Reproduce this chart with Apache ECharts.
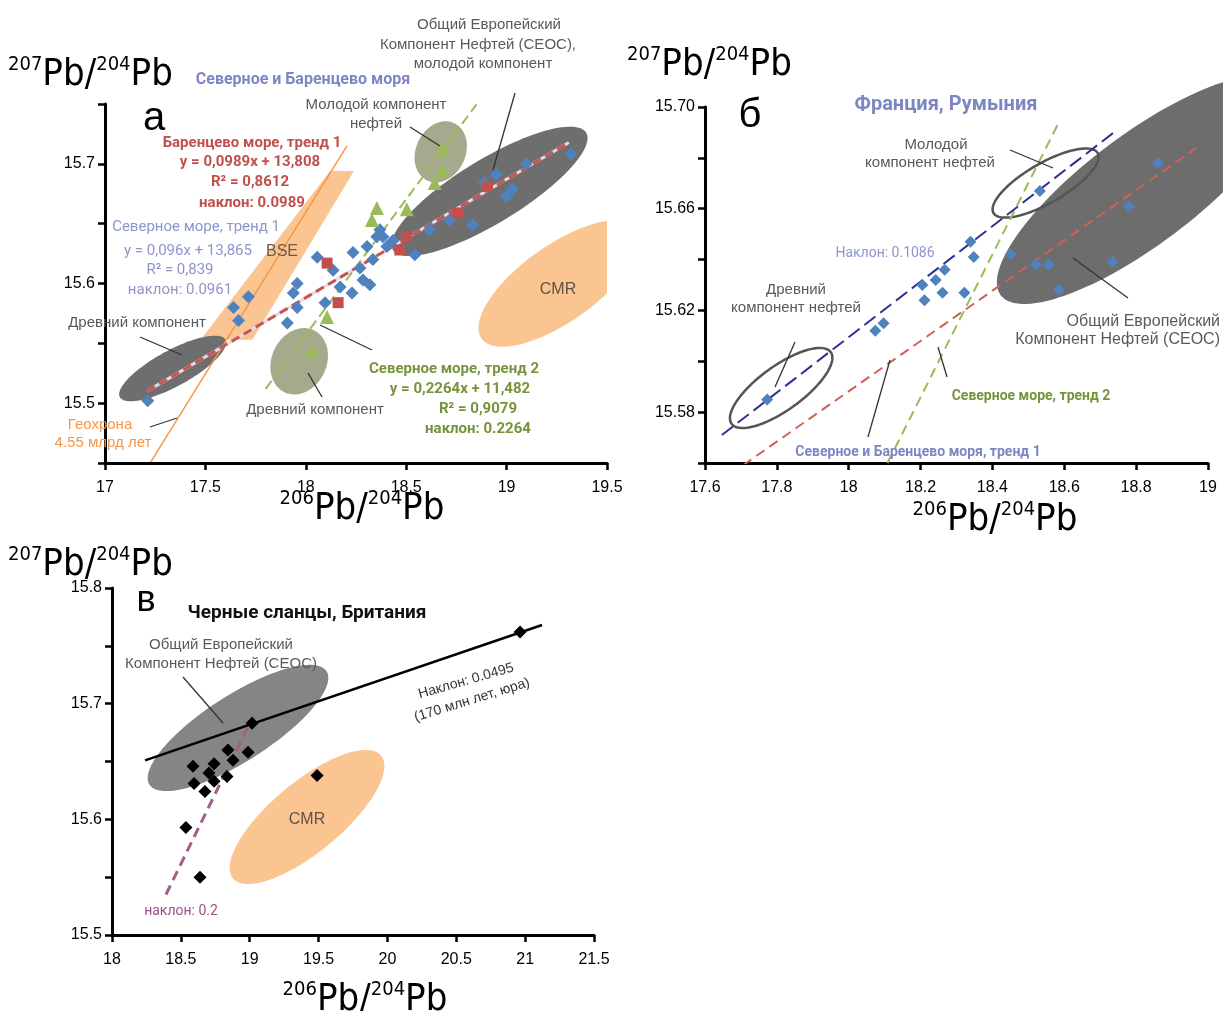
<!DOCTYPE html>
<html><head><meta charset="utf-8">
<script src="https://cdn.jsdelivr.net/npm/echarts@6/dist/echarts.min.js"></script>
<style>html,body{margin:0;padding:0;background:#fff}#c{width:1223px;height:1011px}</style>
</head><body><div id="c"></div>
<script>
// ===== Panel а: Северное и Баренцево моря =====
const aNorthSeaX = [17.213,17.640,17.714,17.665,17.908,17.938,17.957,17.957,18.096,18.171,18.230,18.285,18.319,18.057,18.136,18.235,18.305,18.334,18.354,18.384,18.404,18.434,18.369,18.270,18.543,18.617,18.716,18.830,18.890,18.949,19.029,18.999,19.098,19.321];
const aNorthSeaY = [15.502,15.580,15.589,15.569,15.567,15.592,15.600,15.580,15.584,15.597,15.592,15.603,15.599,15.622,15.611,15.626,15.631,15.620,15.639,15.639,15.631,15.636,15.645,15.613,15.624,15.645,15.653,15.649,15.684,15.691,15.679,15.673,15.700,15.708];
const aBarentsX = [18.905,18.756,18.503,18.468,18.106,18.161];
const aBarentsY = [15.681,15.659,15.639,15.628,15.617,15.584];
const aTrend2X = [18.354,18.329,18.503,18.642,18.682,18.677,18.106,18.032];
const aTrend2Y = [15.663,15.653,15.662,15.684,15.695,15.712,15.572,15.544];
const aBarentsCoef = [0.0989, 13.808];
const aBarentsRange = [17.21, 19.31];
const aNorthSea2Coef = [0.2264, 11.482];
const aNorthSea2Range = [17.80, 18.85];
const aGeochronX = [17.228, 18.205];
const aGeochronY = [15.451, 15.715];
const aBseX = [18.121, 18.240, 17.734, 17.476];
const aBseY = [15.694, 15.694, 15.553, 15.553];
// regions: centre x, centre y, major-axis tip x, tip y, minor/major ratio
const aRegions = [
  [18.672, 15.710, 18.739, 15.734, 0.78],
  [17.967, 15.535, 18.039, 15.561, 0.80],
  [19.262, 15.600, 19.649, 15.646, 0.40],
  [17.337, 15.529, 17.600, 15.553, 0.30],
  [18.915, 15.677, 19.396, 15.726, 0.283]
];
const aXTickLabels = ['17','17.5','18','18.5','19','19.5'];
const aYTickLabels = ['15.5','15.6','15.7'];

// ===== Panel б: Франция, Румыния =====
const bPointsX = [17.773,18.074,18.097,18.205,18.242,18.211,18.261,18.267,18.322,18.585,18.861,18.532,18.780,18.339,18.348,18.451,18.521,18.557,18.735];
const bPointsY = [15.585,15.612,15.615,15.630,15.632,15.624,15.627,15.636,15.627,15.628,15.678,15.667,15.661,15.647,15.641,15.642,15.638,15.638,15.639];
const bNavyX = [17.647, 18.738];
const bNavyY = [15.571, 15.690];
const bBarentsRange = [17.706, 18.967];
const bGreenX = [18.108, 18.585];
const bGreenY = [15.560, 15.694];
const bRegions = [
  [18.813, 15.6674, 19.203, 15.7088, 0.314],
  [18.548, 15.6701, 18.693, 15.6819, 0.33],
  [17.812, 15.5895, 17.950, 15.6036, 0.36]
];
const bXTickLabels = ['17.6','17.8','18','18.2','18.4','18.6','18.8','19'];
const bYTickLabels = ['15.58','15.62','15.66','15.70'];

// ===== Panel в: Черные сланцы, Британия =====
const cPointsX = [19.017,18.842,18.988,18.879,18.588,18.741,18.704,18.596,18.741,18.835,18.675,18.537,18.639,19.489,20.963];
const cPointsY = [15.683,15.660,15.658,15.651,15.646,15.648,15.640,15.631,15.633,15.637,15.624,15.593,15.550,15.638,15.762];
const cBlackX = [18.240, 21.123];
const cBlackY = [15.651, 15.768];
const cPinkX = [18.392, 19.024];
const cPinkY = [15.535, 15.689];
const cRegions = [
  [19.416, 15.602, 19.954, 15.655, 0.365],
  [18.915, 15.679, 19.558, 15.728, 0.314]
];
const cXTickLabels = ['18','18.5','19','19.5','20','20.5','21','21.5'];
const cYTickLabels = ['15.5','15.6','15.7','15.8'];

// ===== styling =====
const ARIAL = "'Liberation Sans', Arial, sans-serif";
const CAL = "Roboto, 'Open Sans', sans-serif";
const NARROW = "'Liberation Sans Narrow','Arial Narrow','DejaVu Sans Condensed',sans-serif";
const GRAY = '#595959', LAV = '#7d86c4', LAV2 = '#8e95cb', RED = '#c0504d', OLIVE = '#77933c', ORANGE = '#f79646';

function fmt(labels) {
  return v => { for (const l of labels) if (Math.abs(parseFloat(l) - v) < 1e-6) return l; return ''; };
}
function axis(gi, min, max, interval, labels, isY) {
  return {
    type: 'value', gridIndex: gi, min, max, interval, scale: true,
    axisLine: {show: true, onZero: false, lineStyle: {color: '#000', width: 3}},
    axisTick: {show: true, inside: false, length: 7, lineStyle: {color: '#000', width: 2.5}},
    splitLine: {show: false},
    axisLabel: {color: '#000', fontSize: 16, fontFamily: ARIAL, margin: isY ? 10 : 17,
      showMinLabel: true, showMaxLabel: true, formatter: fmt(labels)}
  };
}
function regionSeries(xi, regions, fills, strokes, widths, clip) {
  return {
    type: 'custom', xAxisIndex: xi, yAxisIndex: xi, clip, z: 1, silent: true,
    data: regions, encode: {x: 0, y: 1},
    renderItem: (params, api) => {
      const c = api.coord([api.value(0), api.value(1)]);
      const t = api.coord([api.value(2), api.value(3)]);
      const r = api.value(4);
      const dx = t[0] - c[0], dy = t[1] - c[1];
      const a = Math.hypot(dx, dy), ux = dx / a, uy = dy / a, b = a * r;
      const pts = [];
      for (let k = 0; k < 120; k++) {
        const th = 2 * Math.PI * k / 120;
        const ca = Math.cos(th) * a, sb = Math.sin(th) * b;
        pts.push([c[0] + ca * ux - sb * uy, c[1] + ca * uy + sb * ux]);
      }
      const i = params.dataIndex;
      return {type: 'polygon', shape: {points: pts},
        style: {fill: fills[i] || 'none', stroke: strokes[i] || null, lineWidth: widths[i] || 0}};
    }
  };
}
function polySeries(xi, xs, ys, fill) {
  return {
    type: 'custom', xAxisIndex: xi, yAxisIndex: xi, clip: true, z: 1, silent: true,
    data: xs.map((x, i) => [x, ys[i]]), encode: {x: 0, y: 1},
    renderItem: (params, api) => {
      if (params.dataIndex !== 0) return null;
      const pts = xs.map((x, i) => api.coord([x, ys[i]]));
      return {type: 'polygon', shape: {points: pts}, style: {fill}};
    }
  };
}
function seg(xi, xs, ys, color, width, dash, z) {
  return {type: 'line', xAxisIndex: xi, yAxisIndex: xi, data: xs.map((x, i) => [x, ys[i]]),
    symbol: 'none', silent: true, z: z || 3, lineStyle: {color, width, type: dash || 'solid'}};
}
function trend(xi, coef, range, color, width, dash, z) {
  return seg(xi, range, range.map(x => coef[0] * x + coef[1]), color, width, dash, z);
}
function pts(xi, xs, ys, symbol, size, color) {
  return {type: 'scatter', xAxisIndex: xi, yAxisIndex: xi, data: xs.map((x, i) => [x, ys[i]]),
    symbol, symbolSize: size, z: 4, silent: true, itemStyle: {color, opacity: 1}};
}
function T(x, y, text, o) {
  o = o || {};
  const align = o.align || 'center';
  return {type: 'text', x, y, rotation: o.rot || 0, z: 100, silent: true,
    style: {text, fill: o.color || GRAY, fontSize: o.size || 15, fontFamily: o.font || ARIAL,
      fontWeight: o.weight || 'normal', align, verticalAlign: 'middle', textAlign: align, textVerticalAlign: 'middle'}};
}
function L(x1, y1, x2, y2, color) {
  return {type: 'line', z: 99, silent: true, shape: {x1, y1, x2, y2}, style: {stroke: color || '#333', lineWidth: 1.3}};
}
function PB(x, y, top, align) {
  return {type: 'text', x, y, z: 100, silent: true,
    style: {text: '{s|' + top + '}{m|Pb/}{s|204}{m|Pb}', align: align || 'center', verticalAlign: 'middle',
      textAlign: align || 'center', textVerticalAlign: 'middle',
      rich: {s: {fontSize: 20, fontFamily: NARROW, fill: '#000', verticalAlign: 'top', lineHeight: 20},
             m: {fontSize: 38, fontFamily: NARROW, fill: '#000', lineHeight: 40}}}};
}

const graphics = [
  // panel а
  PB(8, 75, '207', 'left'), PB(362, 509, '206'),
  T(303, 80, 'Северное и Баренцево моря', {size: 16, font: CAL, weight: 'bold', color: LAV}),
  T(154, 119, 'а', {size: 40, color: '#000'}),
  T(252, 143, 'Баренцево море, тренд 1', {size: 15, font: CAL, weight: 'bold', color: RED}),
  T(250, 162, 'y = 0,0989x + 13,808', {size: 15, font: CAL, weight: 'bold', color: RED}),
  T(250, 182, 'R² = 0,8612', {size: 15, font: CAL, weight: 'bold', color: RED}),
  T(252, 203, 'наклон: 0.0989', {size: 15, font: CAL, weight: 'bold', color: RED}),
  T(196, 227, 'Северное море, тренд 1', {size: 15, font: CAL, color: LAV2}),
  T(188, 251, 'y = 0,096x + 13,865', {size: 15, font: CAL, color: LAV2}),
  T(180, 270, 'R² = 0,839', {size: 15, font: CAL, color: LAV2}),
  T(180, 290, 'наклон: 0.0961', {size: 15, font: CAL, color: LAV2}),
  T(282, 252, 'BSE', {size: 16, color: '#6f5a46'}),
  T(558, 290, 'CMR', {size: 16, color: '#5f5248'}),
  T(489, 25, 'Общий Европейский', {size: 15}),
  T(478, 45, 'Компонент Нефтей (СЕОС),', {size: 15}),
  T(483, 64, 'молодой компонент', {size: 15}),
  T(376, 105, 'Молодой компонент', {size: 15}),
  T(376, 124, 'нефтей', {size: 15}),
  T(137, 323, 'Древний компонент', {size: 15}),
  T(315, 410, 'Древний компонент', {size: 15}),
  T(454, 369, 'Северное море, тренд 2', {size: 15, font: CAL, weight: 'bold', color: OLIVE}),
  T(460, 389, 'y = 0,2264x + 11,482', {size: 15, font: CAL, weight: 'bold', color: OLIVE}),
  T(478, 409, 'R² = 0,9079', {size: 15, font: CAL, weight: 'bold', color: OLIVE}),
  T(478, 429, 'наклон: 0.2264', {size: 15, font: CAL, weight: 'bold', color: OLIVE}),
  T(100, 425, 'Геохрона', {size: 15, color: ORANGE}),
  T(103, 443, '4.55 млрд лет', {size: 15, color: ORANGE}),
  L(515, 93, 493, 170), L(410, 127, 440, 146), L(140, 337, 182, 355), L(308, 373, 322, 397),
  L(320, 325, 372, 350), L(150, 427, 177, 418),
  // panel б
  PB(627, 65, '207', 'left'), PB(995, 520, '206'),
  T(750, 116, 'б', {size: 40, color: '#000'}),
  T(946, 105, 'Франция, Румыния', {size: 20, font: CAL, weight: 'bold', color: LAV}),
  T(936, 145, 'Молодой', {size: 15}),
  T(930, 163, 'компонент нефтей', {size: 15}),
  T(885, 253, 'Наклон: 0.1086', {size: 14, font: CAL, color: LAV2}),
  T(796, 290, 'Древний', {size: 15}),
  T(796, 308, 'компонент нефтей', {size: 15}),
  T(1220, 322, 'Общий Европейский', {size: 16, align: 'right'}),
  T(1220, 340, 'Компонент Нефтей (СЕОС)', {size: 16, align: 'right'}),
  T(1031, 396, 'Северное море, тренд 2', {size: 14, font: CAL, weight: 'bold', color: OLIVE}),
  T(918, 452, 'Северное и Баренцево моря, тренд 1', {size: 14, font: CAL, weight: 'bold', color: LAV}),
  L(1010, 150, 1053, 168), L(795, 342, 775, 387), L(1073, 258, 1128, 298),
  L(938, 347, 947, 377), L(890, 360, 868, 437),
  // panel в
  PB(8, 565, '207', 'left'), PB(365, 1000, '206'),
  T(146, 601, 'в', {size: 36, color: '#000'}),
  T(307, 613, 'Черные сланцы, Британия', {size: 19, font: CAL, weight: 'bold', color: '#111'}),
  T(221, 645, 'Общий Европейский', {size: 15}),
  T(221, 664, 'Компонент Нефтей (СЕОС)', {size: 15}),
  T(466, 681, 'Наклон: 0.0495', {size: 14, color: '#333', rot: 0.28}),
  T(472, 700, '(170 млн лет, юра)', {size: 14, color: '#333', rot: 0.30}),
  T(307, 820, 'CMR', {size: 16, color: '#5f5248'}),
  T(181, 911, 'наклон: 0.2', {size: 14, font: CAL, color: '#9b4f84'}),
  L(183, 677, 223, 723)
];

const option = {
  animation: false,
  backgroundColor: '#fff',
  grid: [
    {left: 105, top: 104, width: 502, height: 359, outerBoundsMode: 'none', containLabel: false},
    {left: 705, top: 107, width: 503, height: 356, outerBoundsMode: 'none', containLabel: false},
    {left: 112, top: 588, width: 482, height: 347, outerBoundsMode: 'none', containLabel: false}
  ],
  xAxis: [
    axis(0, 17, 19.5, 0.5, aXTickLabels, false),
    axis(1, 17.6, 19, 0.2, bXTickLabels, false),
    axis(2, 18, 21.5, 0.5, cXTickLabels, false)
  ],
  yAxis: [
    axis(0, 15.45, 15.75, 0.05, aYTickLabels, true),
    axis(1, 15.56, 15.70, 0.02, bYTickLabels, true),
    axis(2, 15.5, 15.8, 0.05, cYTickLabels, true)
  ],
  graphic: {elements: graphics},
  series: [
    // panel а
    polySeries(0, aBseX, aBseY, '#fac591'),
    regionSeries(0, aRegions, ['#a6aa8c', '#a6aa8c', '#fac591', '#6e6e6e', '#6e6e6e'], [], [], true),
    seg(0, aGeochronX, aGeochronY, ORANGE, 1.5),
    trend(0, aBarentsCoef, aBarentsRange, '#e8d8e6', 3),
    trend(0, aBarentsCoef, aBarentsRange, '#c9544f', 3, [9, 5]),
    trend(0, aNorthSea2Coef, aNorthSea2Range, '#9bbb59', 2, [10, 5]),
    pts(0, aNorthSeaX, aNorthSeaY, 'diamond', 13, '#4f81bd'),
    pts(0, aBarentsX, aBarentsY, 'rect', 11, '#c0504d'),
    pts(0, aTrend2X, aTrend2Y, 'triangle', 14, '#9bbb59'),
    // panel б
    regionSeries(1, bRegions, ['#6d6d6d', null, null], [null, '#555', '#555'], [0, 2.5, 2.5], false),
    trend(1, aBarentsCoef, bBarentsRange, '#d2605a', 2, [10, 6]),
    seg(1, bGreenX, bGreenY, '#9bbb59', 2, [10, 6]),
    seg(1, bNavyX, bNavyY, '#2e3192', 2, [14, 6]),
    pts(1, bPointsX, bPointsY, 'diamond', 12, '#4f81bd'),
    // panel в
    regionSeries(2, cRegions, ['#fac591', '#858585'], [], [], false),
    seg(2, cBlackX, cBlackY, '#000', 2.5),
    seg(2, cPinkX, cPinkY, '#a0608a', 3, [10, 6]),
    pts(2, cPointsX, cPointsY, 'diamond', 13, '#000')
  ]
};
const chart = echarts.init(document.getElementById('c'), null, {renderer: 'canvas', width: 1223, height: 1011});
chart.setOption(option);
</script>
</body></html>
